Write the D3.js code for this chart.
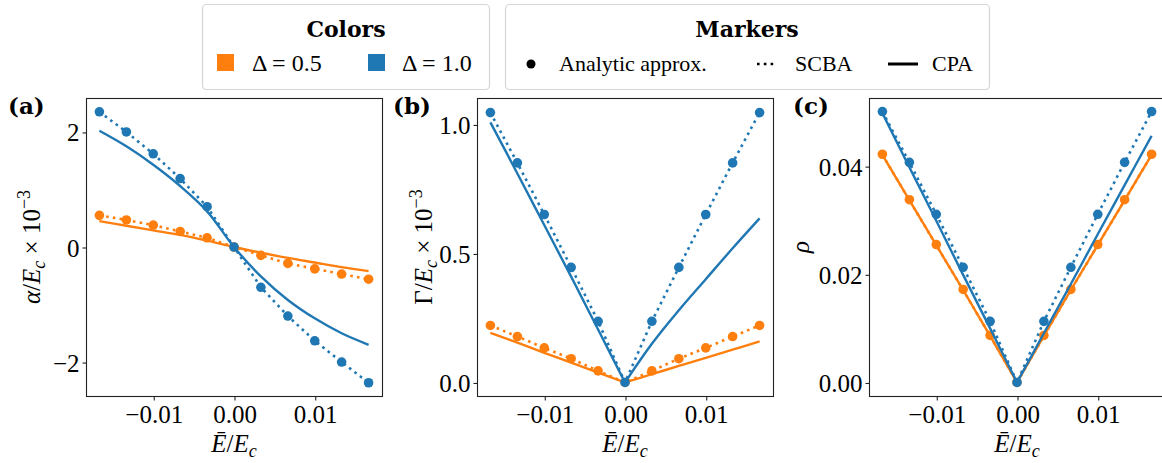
<!DOCTYPE html>
<html>
<head>
<meta charset="utf-8">
<script src="https://cdn.jsdelivr.net/npm/d3@7"></script>
<style>
  body { margin: 0; background: #fff; }
  text { font-family: 'Liberation Serif', 'Times New Roman', 'DejaVu Serif', serif; fill: #000; }
</style>
</head>
<body>
<div id="chart"></div>
<script>
const WIDTH = 1162;
const HEIGHT = 463;

const ORANGE = '#ff7f0e';
const BLUE = '#1f77b4';
const SERIF = "'Liberation Serif', 'Times New Roman', 'DejaVu Serif', serif";

// data
const E_VALUES = [-0.01667, -0.01333, -0.01, -0.00667, -0.00333, 0, 0.00333, 0.00667, 0.01, 0.01333, 0.01667];
const X_TICKS = [-0.01, 0, 0.01];

const ALPHA_APPROX_05 = [0.55, 0.47, 0.38, 0.27, 0.16, 0, -0.145, -0.285, -0.38, -0.47, -0.56];
const ALPHA_SCBA_05 = [0.55, 0.47, 0.38, 0.27, 0.16, 0, -0.145, -0.285, -0.38, -0.47, -0.56];
const ALPHA_CPA_05 = [0.45, 0.37, 0.29, 0.21, 0.11, 0, -0.10, -0.19, -0.27, -0.35, -0.42];
const ALPHA_APPROX_10 = [2.35, 2.0, 1.62, 1.19, 0.70, 0, -0.70, -1.20, -1.63, -2.0, -2.36];
const ALPHA_SCBA_10 = [2.35, 2.0, 1.62, 1.19, 0.70, 0, -0.70, -1.20, -1.63, -2.0, -2.36];
const ALPHA_CPA_10 = [2.02, 1.75, 1.43, 1.06, 0.62, 0, -0.51, -0.92, -1.24, -1.50, -1.70];
const ALPHA_TICKS = [-2, 0, 2];

const GAMMA_APPROX_05 = [0.221, 0.178, 0.134, 0.092, 0.045, 0, 0.045, 0.092, 0.134, 0.178, 0.221];
const GAMMA_SCBA_05 = [0.221, 0.178, 0.134, 0.092, 0.045, 0, 0.045, 0.092, 0.134, 0.178, 0.221];
const GAMMA_CPA_05 = [0.192, 0.154, 0.115, 0.077, 0.038, 0, 0.032, 0.064, 0.095, 0.127, 0.159];
const GAMMA_APPROX_10 = [1.046, 0.851, 0.651, 0.446, 0.237, 0, 0.237, 0.446, 0.651, 0.851, 1.046];
const GAMMA_SCBA_10 = [1.046, 0.851, 0.651, 0.446, 0.237, 0, 0.237, 0.446, 0.651, 0.851, 1.046];
const GAMMA_CPA_10 = [1.008, 0.81, 0.61, 0.41, 0.205, 0, 0.15, 0.28, 0.40, 0.52, 0.636];
const GAMMA_TICKS = [0, 0.5, 1.0];

const RHO_APPROX_05 = [0.0422, 0.0338, 0.0255, 0.0172, 0.0087, 0, 0.0087, 0.0172, 0.0255, 0.0338, 0.0422];
const RHO_SCBA_05 = [0.0421, 0.0337, 0.0254, 0.0171, 0.0086, 0, 0.0086, 0.0171, 0.0254, 0.0337, 0.0421];
const RHO_CPA_05 = [0.0421, 0.0337, 0.0254, 0.0171, 0.0086, 0, 0.0086, 0.0171, 0.0254, 0.0337, 0.0421];
const RHO_APPROX_10 = [0.0501, 0.0407, 0.0311, 0.0213, 0.0113, 0, 0.0113, 0.0213, 0.0311, 0.0407, 0.0501];
const RHO_SCBA_10 = [0.0501, 0.0407, 0.0311, 0.0213, 0.0113, 0, 0.0113, 0.0213, 0.0311, 0.0407, 0.0501];
const RHO_CPA_10 = [0.0498, 0.0398, 0.0299, 0.0199, 0.0100, 0, 0.0091, 0.0182, 0.0274, 0.0365, 0.0456];
const RHO_TICKS = [0, 0.02, 0.04];

const X_DOMAIN = [-0.01833, 0.01833];
const PANEL_TOP = 98;
const PANEL_BOTTOM = 396;
const PANEL_W = 296;

const fmtMinus = s => s.replace('-', '\u2212');

const PANELS = [
  { tag: '(a)', left: 86, yDomain: [-2.59, 2.59], ticks: ALPHA_TICKS, fmt: d => fmtMinus(d3.format('d')(d)),
    split: false, label: 'alpha', labelX: 40, tagX: 8,
    series: [[ORANGE, ALPHA_APPROX_05, ALPHA_SCBA_05, ALPHA_CPA_05], [BLUE, ALPHA_APPROX_10, ALPHA_SCBA_10, ALPHA_CPA_10]] },
  { tag: '(b)', left: 477, yDomain: [-0.0525, 1.1025], ticks: GAMMA_TICKS, fmt: d3.format('.1f'),
    split: true, label: 'gamma', labelX: 432, tagX: 393,
    series: [[ORANGE, GAMMA_APPROX_05, GAMMA_SCBA_05, GAMMA_CPA_05], [BLUE, GAMMA_APPROX_10, GAMMA_SCBA_10, GAMMA_CPA_10]] },
  { tag: '(c)', left: 869, yDomain: [-0.0025, 0.0526], ticks: RHO_TICKS, fmt: d3.format('.2f'),
    split: true, label: 'rho', labelX: 809, tagX: 793,
    series: [[ORANGE, RHO_APPROX_05, RHO_SCBA_05, RHO_CPA_05], [BLUE, RHO_APPROX_10, RHO_SCBA_10, RHO_CPA_10]] }
];

const setUp = () => {
  window.svg = d3.select('#chart').append('svg')
    .attr('width', WIDTH).attr('height', HEIGHT)
    .style('display', 'block');
}

const drawLegend = () => {
  let svg = window.svg;
  // colors box
  svg.append('rect').attr('x', 202.5).attr('y', 4.5).attr('width', 287).attr('height', 85)
    .attr('rx', 4).attr('fill', '#fff').attr('stroke', '#d6d6d6').attr('stroke-width', 1.2);
  svg.append('text').attr('x', 346).attr('y', 37).attr('text-anchor', 'middle')
    .style('font-family', "'DejaVu Serif', serif").style('font-weight', 'bold').style('font-size', '22px')
    .text('Colors');
  [[ORANGE, 217, 252, '0.5'], [BLUE, 368, 402, '1.0']].forEach(([c, sx, tx, v]) => {
    svg.append('rect').attr('x', sx).attr('y', 54).attr('width', 17).attr('height', 17).attr('fill', c);
    svg.append('text').attr('x', tx).attr('y', 71).style('font-family', SERIF).style('font-size', '24px')
      .text('\u0394 = ' + v);
  });

  // markers box
  svg.append('rect').attr('x', 505.5).attr('y', 4.5).attr('width', 484).attr('height', 85)
    .attr('rx', 4).attr('fill', '#fff').attr('stroke', '#d6d6d6').attr('stroke-width', 1.2);
  svg.append('text').attr('x', 747).attr('y', 37).attr('text-anchor', 'middle')
    .style('font-family', "'DejaVu Serif', serif").style('font-weight', 'bold').style('font-size', '22px')
    .text('Markers');
  svg.append('circle').attr('cx', 531).attr('cy', 64).attr('r', 4.5).attr('fill', '#000');
  svg.append('text').attr('x', 559).attr('y', 71).style('font-family', SERIF).style('font-size', '22px').text('Analytic approx.');
  svg.append('line').attr('x1', 757).attr('x2', 776).attr('y1', 64).attr('y2', 64)
    .attr('stroke', '#000').attr('stroke-width', 2.6).attr('stroke-dasharray', '2.6,4.2');
  svg.append('text').attr('x', 795).attr('y', 71).style('font-family', SERIF).style('font-size', '22px').text('SCBA');
  svg.append('line').attr('x1', 888).attr('x2', 918).attr('y1', 64).attr('y2', 64)
    .attr('stroke', '#000').attr('stroke-width', 3);
  svg.append('text').attr('x', 932).attr('y', 71).style('font-family', SERIF).style('font-size', '22px').text('CPA');
}

const yLabel = (g, kind) => {
  let t = g.append('text').attr('transform', 'rotate(-90)').attr('text-anchor', 'middle')
    .style('font-family', SERIF).style('font-size', '25px');
  if (kind === 'rho') {
    t.append('tspan').style('font-style', 'italic').text('\u03c1');
    return t;
  }
  if (kind === 'alpha') t.append('tspan').style('font-style', 'italic').text('\u03b1');
  if (kind === 'gamma') t.append('tspan').text('\u0393');
  t.append('tspan').text('/');
  t.append('tspan').style('font-style', 'italic').text('E');
  t.append('tspan').style('font-style', 'italic').style('font-size', '18px').attr('dy', 5).text('c');
  t.append('tspan').attr('dy', -5).text(' \u00d7 10');
  t.append('tspan').style('font-size', '18px').attr('dy', -10).text('\u22123');
  return t;
}

const xLabel = (g) => {
  let t = g.append('text').attr('text-anchor', 'middle').style('font-family', SERIF).style('font-size', '25px');
  t.append('tspan').style('font-style', 'italic').text('\u0112');
  t.append('tspan').text('/');
  t.append('tspan').style('font-style', 'italic').text('E');
  t.append('tspan').style('font-style', 'italic').style('font-size', '18px').attr('dy', 5).text('c');
  return t;
}

const drawPanel = p => {
  let svg = window.svg;
  let x = d3.scaleLinear().domain(X_DOMAIN).range([p.left, p.left + PANEL_W]);
  let y = d3.scaleLinear().domain(p.yDomain).range([PANEL_BOTTOM, PANEL_TOP]);
  let g = svg.append('g');

  p.series.forEach(([color, approx, scba, cpa]) => {
    let pts = E_VALUES.map((e, i) => [e, approx[i]]);
    g.selectAll(null).data(pts).enter().append('circle')
      .attr('cx', d => x(d[0])).attr('cy', d => y(d[1])).attr('r', 4.8).attr('fill', color);
    let dotted = d3.line().x(d => x(d[0])).y(d => y(d[1]));
    g.append('path').datum(E_VALUES.map((e, i) => [e, scba[i]])).attr('d', dotted)
      .attr('fill', 'none').attr('stroke', color).attr('stroke-width', 2.6).attr('stroke-dasharray', '2.6,4.2');
    let solid = d3.line().curve(d3.curveCatmullRom).x(d => x(d[0])).y(d => y(d[1]));
    let cpaPts = E_VALUES.map((e, i) => [e, cpa[i]]);
    // V-shaped curves keep their sharp tip at zero
    let pieces = p.split ? [cpaPts.slice(0, 6), cpaPts.slice(5)] : [cpaPts];
    pieces.forEach(piece => {
      g.append('path').datum(piece).attr('d', solid)
        .attr('fill', 'none').attr('stroke', color).attr('stroke-width', 2.4);
    });
  });

  // frame
  svg.append('rect').attr('x', p.left + 0.5).attr('y', PANEL_TOP + 0.5)
    .attr('width', PANEL_W).attr('height', PANEL_BOTTOM - PANEL_TOP)
    .attr('fill', 'none').attr('stroke', '#222').attr('stroke-width', 1.1);

  let xAxis = svg.append('g').attr('transform', `translate(0.5,${PANEL_BOTTOM + 0.5})`)
    .call(d3.axisBottom(x).tickValues(X_TICKS).tickSize(4).tickPadding(5)
      .tickFormat(d => fmtMinus(d3.format('.2f')(d))));
  let yAxis = svg.append('g').attr('transform', `translate(${p.left + 0.5},0.5)`)
    .call(d3.axisLeft(y).tickValues(p.ticks).tickSize(4).tickPadding(3).tickFormat(p.fmt));
  [xAxis, yAxis].forEach(a => {
    a.attr('font-family', SERIF);
    a.select('.domain').remove();
    a.selectAll('line').attr('stroke', '#222').attr('stroke-width', 1.1);
    a.selectAll('text').style('font-family', SERIF).style('font-size', '25px').attr('fill', '#000');
  });
  yAxis.selectAll('text').attr('dy', '0.34em');

  xLabel(svg).attr('x', p.left + PANEL_W / 2).attr('y', 452);
  yLabel(svg, p.label).attr('x', -(PANEL_TOP + PANEL_BOTTOM) / 2).attr('y', p.labelX);

  svg.append('text').attr('x', p.tagX).attr('y', 114)
    .style('font-family', "'DejaVu Serif', serif").style('font-weight', 'bold').style('font-size', '23px')
    .text(p.tag);
}

setUp();
PANELS.forEach(drawPanel);
drawLegend();
</script>
</body>
</html>
